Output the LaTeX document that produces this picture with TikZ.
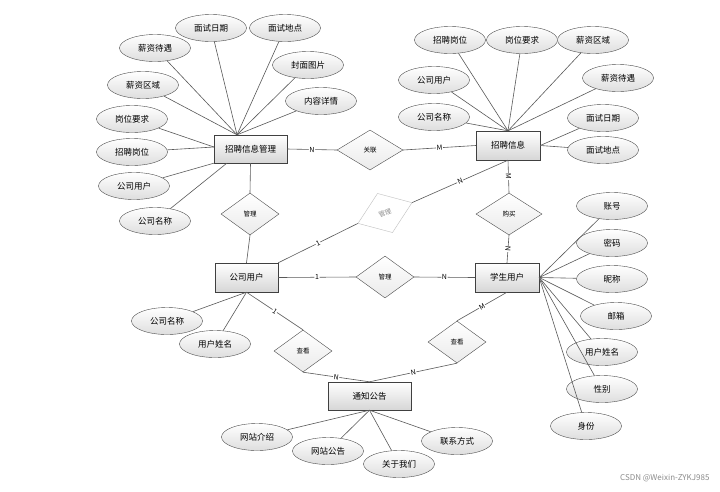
\documentclass[tikz,border=0pt]{standalone}
\usepackage{fontspec}
\setmainfont{Noto Sans CJK SC}
\usetikzlibrary{shapes.geometric}

\begin{document}
\begin{tikzpicture}[
  x=1pt, y=-1pt,
  entity/.style={rectangle, draw=black!75, top color=white, bottom color=black!16, minimum width=64pt, minimum height=29pt, inner sep=2pt, font=\fontsize{8.5}{10}\selectfont},
  attr/.style={ellipse, draw=black!70, top color=white, bottom color=black!13, minimum width=71pt, minimum height=27pt, inner sep=0pt, font=\fontsize{8.5}{10}\selectfont},
  rel/.style={diamond, draw=black!70, top color=white, bottom color=black!8, minimum width=58pt, minimum height=42pt, inner sep=0pt, font=\fontsize{6.5}{7}\selectfont},
  card/.style={fill=white, inner sep=0.6pt, sloped, font=\fontsize{7}{7}\selectfont},
  link/.style={draw=black!65, line width=0.6pt}
]
\useasboundingbox[fill=white] (0,0) rectangle (720,491);

% entities
\node[entity, minimum width=73pt, minimum height=28pt] (mgr) at (250.5,149) {招聘信息管理};
\node[entity] (job) at (508,145.5) {招聘信息};
\node[entity, minimum width=63pt] (com) at (246.5,277.5) {公司用户};
\node[entity] (stu) at (507,277.5) {学生用户};
\node[entity, minimum width=83pt, minimum height=28pt] (notice) at (369.5,396) {通知公告};

% relations
\node[rel, minimum width=66pt, minimum height=40pt] (link1) at (370,150) {关联};
\node[rel] (manage1) at (250,214) {管理};
\node[rel, rotate=21, draw=black!25, top color=white, bottom color=white, text=black!45] (manage2) at (385,213) {管理};
\node[rel] (manage3) at (385,277) {管理};
\node[rel, minimum width=66pt] (buy) at (509,214) {购买};
\node[rel] (viewl) at (303,351) {查看};
\node[rel] (viewr) at (457,342) {查看};

% attributes of 招聘信息管理
\node[attr] (m1) at (211,28) {面试日期};
\node[attr] (m2) at (285,28) {面试地点};
\node[attr] (m3) at (155,48) {薪资待遇};
\node[attr] (m4) at (308,65) {封面图片};
\node[attr] (m5) at (143,85) {薪资区域};
\node[attr] (m6) at (321,101) {内容详情};
\node[attr] (m7) at (132,119) {岗位要求};
\node[attr] (m8) at (132,152) {招聘岗位};
\node[attr] (m9) at (134,186) {公司用户};
\node[attr] (m10) at (155,221) {公司名称};

% attributes of 招聘信息
\node[attr] (j1) at (450,40) {招聘岗位};
\node[attr] (j2) at (522,40) {岗位要求};
\node[attr] (j3) at (593,40) {薪资区域};
\node[attr] (j4) at (434,80) {公司用户};
\node[attr] (j5) at (618,78) {薪资待遇};
\node[attr] (j6) at (434,117) {公司名称};
\node[attr] (j7) at (603,118) {面试日期};
\node[attr] (j8) at (603,150) {面试地点};

% attributes of 学生用户
\node[attr] (s1) at (612,206) {账号};
\node[attr] (s2) at (612,243) {密码};
\node[attr] (s3) at (612,279) {昵称};
\node[attr] (s4) at (616,316) {邮箱};
\node[attr] (s5) at (602,352) {用户姓名};
\node[attr] (s6) at (602,389) {性别};
\node[attr] (s7) at (586,426) {身份};

% attributes of 公司用户
\node[attr] (c1) at (167,321) {公司名称};
\node[attr] (c2) at (215,344) {用户姓名};

% attributes of 通知公告
\node[attr] (n1) at (257,437) {网站介绍};
\node[attr] (n2) at (328,451) {网站公告};
\node[attr] (n3) at (399,464) {关于我们};
\node[attr] (n4) at (457,441) {联系方式};

% attribute lines
\coordinate (mgrtop) at ([xshift=-13.5pt]mgr.north);
\coordinate (mgrleft) at ([yshift=2pt]mgr.west);
\coordinate (mgrbot) at ([xshift=13pt]mgr.south west);
\foreach \a in {m1,m2,m3,m4,m5,m6} \draw[link] (\a) -- (mgrtop);
\foreach \a in {m7,m8} \draw[link] (\a) -- (mgrleft);
\draw[link] (m9) -- (mgr.south west);
\draw[link] (m10) -- (mgrbot);
\foreach \a in {j1,j2,j3,j4,j5,j6} \draw[link] (\a) -- (job.north);
\foreach \a in {j7,j8} \draw[link] (\a) -- (job.east);
\foreach \a in {s1,s2,s3,s4,s5,s6,s7} \draw[link] (\a) -- (stu.east);
\foreach \a in {c1,c2} \draw[link] (\a) -- (com.south);
\foreach \a in {n1,n2,n3,n4} \draw[link] (\a) -- (notice.south);

% relation lines
\draw[link] (mgr.east) -- node[card] {N} (link1.west);
\draw[link] (link1.east) -- node[card] {M} (job.west);
\draw[link] (mgr.south) -- (manage1.north);
\draw[link] (manage1.south) -- (com.north);
\draw[link] (com.north east) -- node[card] {1} (manage2.west);
\draw[link] (manage2.east) -- node[card] {N} (job.south);
\draw[link] (com.east) -- node[card] {1} (manage3.west);
\draw[link] (manage3.east) -- node[card] {N} (stu.west);
\draw[link] (job.south) -- node[card] {M} (buy.north);
\draw[link] (buy.south) -- node[card] {N} (stu.north);
\draw[link] (com.south) -- node[card] {1} (viewl.north);
\draw[link] (viewl.south) -- node[card] {N} (notice.north);
\draw[link] (stu.south) -- node[card] {M} (viewr.north);
\draw[link] (viewr.south) -- node[card] {N} (notice.north);

\node[anchor=east, text=black!45, font=\fontsize{8}{9}\selectfont] (mark) at (713,478) {CSDN @Weixin-ZYKJ985};
\end{tikzpicture}
\end{document}
